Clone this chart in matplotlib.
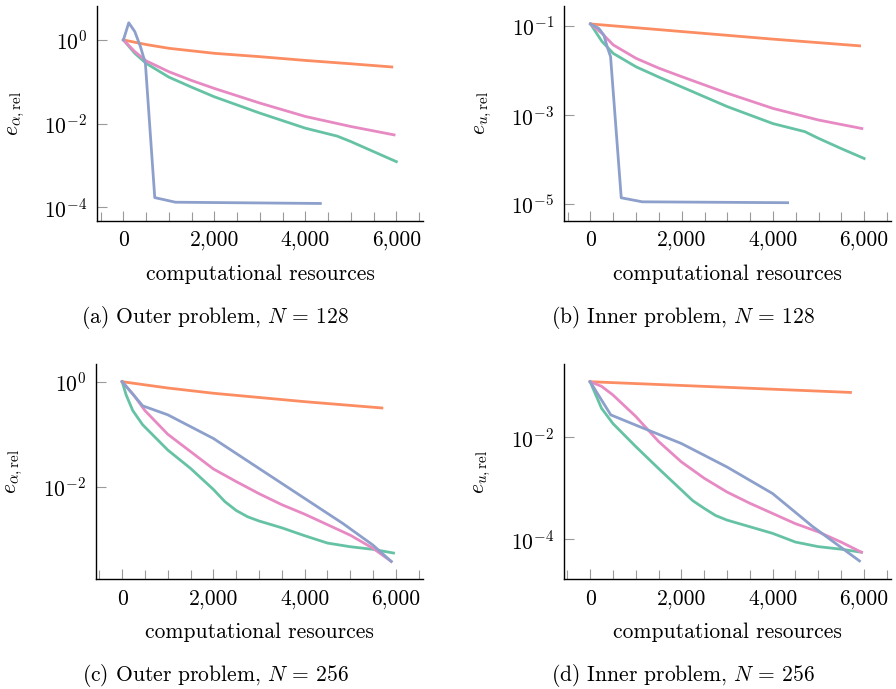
import numpy as np
import matplotlib
matplotlib.use("Agg")
import matplotlib.pyplot as plt
from matplotlib.ticker import FixedLocator, MultipleLocator, FuncFormatter, NullLocator

plt.rcParams['font.family'] = 'serif'
plt.rcParams['font.serif'] = ['cmr10']
plt.rcParams['mathtext.fontset'] = 'cm'
plt.rcParams['axes.formatter.use_mathtext'] = True

# colours (Set2)
c_green = '#66c2a5'
c_orange = '#fc8d62'
c_blue = '#8da0cb'
c_pink = '#e78ac3'

# data: x = computational resources, y = log10 of relative error
# (a) outer, N=128
a_orange_x = [0, 500, 1000, 2000, 3000, 4000, 5000, 5900]
a_orange_y = [0, -0.11, -0.2, -0.32, -0.4, -0.49, -0.57, -0.646]
a_green_x = [0, 250, 500, 1000, 1500, 2000, 3000, 4000, 4700, 5000, 5500, 6000]
a_green_y = [0, -0.32, -0.56, -0.89, -1.13, -1.36, -1.75, -2.11, -2.30, -2.43, -2.67, -2.91]
a_pink_x = [0, 250, 500, 1000, 1500, 2000, 3000, 4000, 5000, 5950]
a_pink_y = [0, -0.28, -0.50, -0.76, -0.97, -1.16, -1.51, -1.83, -2.07, -2.27]
a_blue_x = [0, 117, 250, 374, 483, 689, 1143, 4330]
a_blue_y = [0, 0.41, 0.2, -0.16, -0.56, -3.77, -3.88, -3.91]

# (b) inner, N=128
b_orange_x = [0, 2000, 4000, 5900]
b_orange_y = [-0.96, -1.13, -1.30, -1.45]
b_green_x = [0, 250, 500, 1000, 1500, 2000, 3000, 4000, 4700, 5000, 5500, 6000]
b_green_y = [-0.96, -1.35, -1.62, -1.92, -2.15, -2.37, -2.81, -3.19, -3.37, -3.52, -3.75, -3.97]
b_pink_x = [0, 250, 500, 1000, 1500, 2000, 3000, 4000, 5000, 5950]
b_pink_y = [-0.96, -1.17, -1.43, -1.73, -1.95, -2.14, -2.51, -2.85, -3.11, -3.30]
b_blue_x = [0, 183, 293, 366, 440, 674, 1136, 4322]
b_blue_y = [-0.96, -1.06, -1.21, -1.47, -1.69, -4.85, -4.94, -4.96]

# (c) outer, N=256
c_orange_x = [0, 1000, 2000, 3000, 4000, 5694]
c_orange_y = [0, -0.12, -0.22, -0.30, -0.38, -0.50]
c_green_x = [0, 87, 233, 450, 1000, 1500, 2000, 2250, 2500, 2750, 3000, 3500, 4000, 4500, 5000, 5500, 5950]
c_green_y = [0, -0.25, -0.55, -0.82, -1.30, -1.65, -2.05, -2.28, -2.45, -2.57, -2.65, -2.78, -2.93, -3.07, -3.14, -3.19, -3.26]
c_pink_x = [0, 250, 500, 1000, 1500, 2000, 2500, 3000, 3500, 4000, 4500, 5000, 5500, 5900]
c_pink_y = [0, -0.25, -0.55, -1.0, -1.33, -1.66, -1.90, -2.13, -2.34, -2.52, -2.72, -2.92, -3.17, -3.42]
c_blue_x = [0, 452, 1000, 2000, 3000, 4000, 4843, 5500, 5900]
c_blue_y = [0, -0.46, -0.63, -1.08, -1.65, -2.22, -2.70, -3.11, -3.42]

# (d) inner, N=256
d_orange_x = [0, 3000, 5708]
d_orange_y = [-0.91, -1.02, -1.12]
d_green_x = [0, 250, 500, 1000, 1500, 2000, 2250, 2500, 2750, 3000, 3500, 4000, 4500, 5000, 5500, 5950]
d_green_y = [-0.91, -1.43, -1.73, -2.18, -2.61, -3.03, -3.24, -3.39, -3.53, -3.62, -3.75, -3.88, -4.05, -4.14, -4.19, -4.25]
d_pink_x = [0, 250, 500, 1000, 1500, 2000, 2500, 3000, 3500, 4000, 4500, 5000, 5500, 5950]
d_pink_y = [-0.91, -1.0, -1.17, -1.59, -2.08, -2.48, -2.80, -3.07, -3.29, -3.49, -3.69, -3.85, -4.05, -4.25]
d_blue_x = [0, 453, 1000, 2000, 3000, 4000, 4869, 5905]
d_blue_y = [-0.91, -1.56, -1.76, -2.12, -2.58, -3.10, -3.74, -4.42]

panels = [
    ([0.1083, 0.6792, 0.364, 0.312], (a_green_x, a_green_y, a_orange_x, a_orange_y, a_pink_x, a_pink_y, a_blue_x, a_blue_y),
     (-4.33, 0.81), [0, -2, -4], r'$e_{\alpha,\mathrm{rel}}$', r'(a) Outer problem, $N$ = 128', 215),
    ([0.6295, 0.6792, 0.365, 0.312], (b_green_x, b_green_y, b_orange_x, b_orange_y, b_pink_x, b_pink_y, b_blue_x, b_blue_y),
     (-5.37, -0.56), [-1, -3, -5], r'$e_{u,\mathrm{rel}}$', r'(b) Inner problem, $N$ = 128', 683),
    ([0.1068, 0.1592, 0.365, 0.312], (c_green_x, c_green_y, c_orange_x, c_orange_y, c_pink_x, c_pink_y, c_blue_x, c_blue_y),
     (-3.76, 0.33), [0, -2], r'$e_{\alpha,\mathrm{rel}}$', r'(c) Outer problem, $N$ = 256', 215),
    ([0.6291, 0.1592, 0.365, 0.312], (d_green_x, d_green_y, d_orange_x, d_orange_y, d_pink_x, d_pink_y, d_blue_x, d_blue_y),
     (-4.78, -0.57), [-2, -4], r'$e_{u,\mathrm{rel}}$', r'(d) Inner problem, $N$ = 256', 683),
]

fig = plt.figure(figsize=(8.96, 6.89), dpi=100)
fs = 15.5

for rect, d, ylim, yt, ylab, cap, capx in panels:
    ax = fig.add_axes(rect)
    gx, gy, ox, oy, px, py, bx, by = d
    ax.plot(gx, np.power(10.0, gy), color=c_green, lw=2.0)
    ax.plot(ox, np.power(10.0, oy), color=c_orange, lw=2.0)
    ax.plot(px, np.power(10.0, py), color=c_pink, lw=2.0)
    ax.plot(bx, np.power(10.0, by), color=c_blue, lw=2.0)
    ax.set_yscale('log')
    ax.set_ylim(10.0 ** ylim[0], 10.0 ** ylim[1])
    ax.set_xlim(-580, 6590)
    ax.yaxis.set_major_locator(FixedLocator([10.0 ** e for e in yt]))
    ax.yaxis.set_minor_locator(NullLocator())
    ax.xaxis.set_major_locator(FixedLocator([0, 2000, 4000, 6000]))
    ax.xaxis.set_minor_locator(MultipleLocator(500))
    ax.xaxis.set_major_formatter(FuncFormatter(lambda v, p: f"{v:,.0f}"))
    for s in ['top', 'right']:
        ax.spines[s].set_visible(False)
    for s in ['left', 'bottom']:
        ax.spines[s].set_linewidth(1.0)
    ax.tick_params(axis='both', which='major', direction='in', length=7.5, width=0.8,
                   color='#9a9a9a', labelsize=fs, pad=7)
    ax.tick_params(axis='x', which='minor', direction='in', length=6.5, width=0.8, color='#9a9a9a')
    ax.set_xlabel('computational resources', fontsize=fs)
    ax.xaxis.set_label_coords(0.5, -0.2)
    ax.set_ylabel(ylab, fontsize=fs)
    ax.yaxis.set_label_coords(-0.215, 0.5)
    pos = ax.get_position()
    fig.text(capx / 896, pos.y0 - 0.447 * pos.height, cap, ha='center', va='center', fontsize=fs)

fig.savefig('out.png', dpi=100)
